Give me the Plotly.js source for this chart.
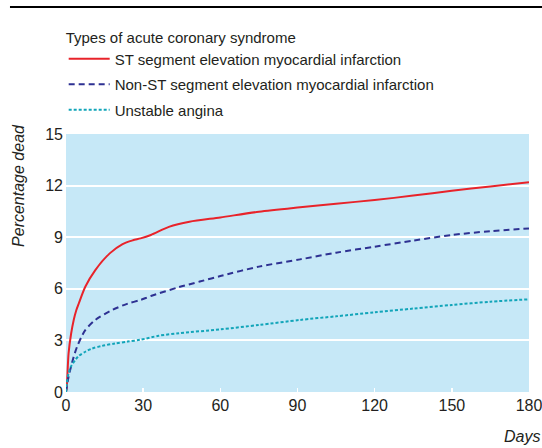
<!DOCTYPE html>
<html>
<head>
<meta charset="utf-8">
<script src="https://cdn.plot.ly/plotly-3.0.1.min.js"></script>
<style>html,body{margin:0;padding:0;background:#fff}#chart{width:542px;height:448px}</style>
</head>
<body>
<div id="chart"></div>
<script>
const seriesNames = [
  "ST segment elevation myocardial infarction",
  "Non-ST segment elevation myocardial infarction",
  "Unstable angina"
];
const stemiDays = [0,0.3,1,2,3,4,5,7.5,11.4,17,22,26,29,33,40,48,60,75,91,105,120,135,150,165,180];
const stemiPct  = [0,0.3,2.25,3.4,4.19,4.75,5.16,6.12,7.09,8.06,8.6,8.82,8.93,9.13,9.6,9.9,10.15,10.48,10.74,10.95,11.16,11.42,11.7,11.95,12.19];
const nstemiDays = [0,1,2,3,4.3,6,7.5,11.4,18,24,29,33,44,52,60,75,91,105,120,135,150,165,180];
const nstemiPct  = [0,0.89,1.5,2.05,2.63,3.2,3.6,4.19,4.77,5.14,5.35,5.58,6.1,6.42,6.74,7.29,7.71,8.1,8.45,8.8,9.13,9.35,9.51];
const uaDays = [0,0.3,1,2,3.6,5,7.5,10,14,19,24,29,36,44,60,75,91,105,120,135,150,165,180];
const uaPct  = [0,0.5,1.09,1.5,1.86,2.1,2.34,2.52,2.68,2.82,2.93,3.04,3.27,3.42,3.64,3.9,4.19,4.4,4.63,4.85,5.06,5.25,5.39];
const yTicks = [0,3,6,9,12,15];
const xTicks = [0,30,60,90,120,150,180];
const legendTitle = "Types of acute coronary syndrome";
const yLabel = "Percentage dead";
const xLabel = "Days";

const FONT = "'Liberation Sans Narrow', 'Liberation Sans', Arial, sans-serif";

const traces = [
  {x: stemiDays, y: stemiPct, name: seriesNames[0], mode: "lines", legendgroup: "a",
   line: {color: "#e8232a", width: 2, shape: "spline", smoothing: 0.8}},
  {x: nstemiDays, y: nstemiPct, name: seriesNames[1], mode: "lines", legendgroup: "b",
   line: {color: "#2e3192", width: 2, dash: "6px,4px", shape: "spline", smoothing: 0.8}},
  {x: uaDays, y: uaPct, name: seriesNames[2], mode: "lines", legendgroup: "c",
   line: {color: "#12a5b9", width: 2, dash: "3px,2px", shape: "spline", smoothing: 0.8}}
];

const layout = {
  width: 542, height: 448,
  margin: {l: 66, r: 13, t: 134, b: 56},
  paper_bgcolor: "#ffffff",
  plot_bgcolor: "#c6e8f7",
  font: {family: FONT, color: "#231f20", size: 15},
  showlegend: true,
  legend: {
    x: -0.005, xanchor: "left", y: 1.43, yanchor: "top",
    bgcolor: "rgba(0,0,0,0)", borderwidth: 0,
    itemwidth: 41, tracegroupgap: 3,
    font: {family: FONT, size: 15, color: "#231f20"},
    title: {text: legendTitle, side: "top", font: {family: FONT, size: 15, color: "#231f20"}}
  },
  xaxis: {
    range: [0, 180], tickvals: xTicks, ticktext: xTicks.map(String),
    ticks: "inside", ticklen: 4, tickwidth: 1.5, tickcolor: "#ffffff",
    showgrid: false, zeroline: false, showline: false,
    ticklabeloverflow: "allow", ticklabelstandoff: 2,
    tickfont: {family: FONT, size: 16, color: "#231f20"},
    fixedrange: true
  },
  yaxis: {
    range: [0, 15], tickvals: yTicks, ticktext: yTicks.map(String),
    ticks: "", showgrid: true, gridcolor: "#ffffff", gridwidth: 2,
    zeroline: false, showline: false, ticklabelstandoff: 2,
    tickfont: {family: FONT, size: 16, color: "#231f20"},
    fixedrange: true
  },
  shapes: [
    {type: "line", xref: "paper", yref: "paper", x0: -0.121, x1: 1.03, y0: 1.492, y1: 1.492,
     line: {color: "#000000", width: 2}}
  ],
  annotations: [
    {text: yLabel, xref: "paper", yref: "paper", x: -0.104, y: 0.802, xanchor: "center", yanchor: "middle",
     textangle: -90, showarrow: false, font: {family: FONT, size: 16, color: "#231f20", style: "italic"}},
    {text: xLabel, xref: "paper", yref: "paper", x: 1.027, y: -0.174, xanchor: "right", yanchor: "middle",
     showarrow: false, font: {family: FONT, size: 16, color: "#231f20", style: "italic"}}
  ]
};

Plotly.newPlot("chart", traces, layout, {displayModeBar: false, staticPlot: true});
</script>
</body>
</html>
